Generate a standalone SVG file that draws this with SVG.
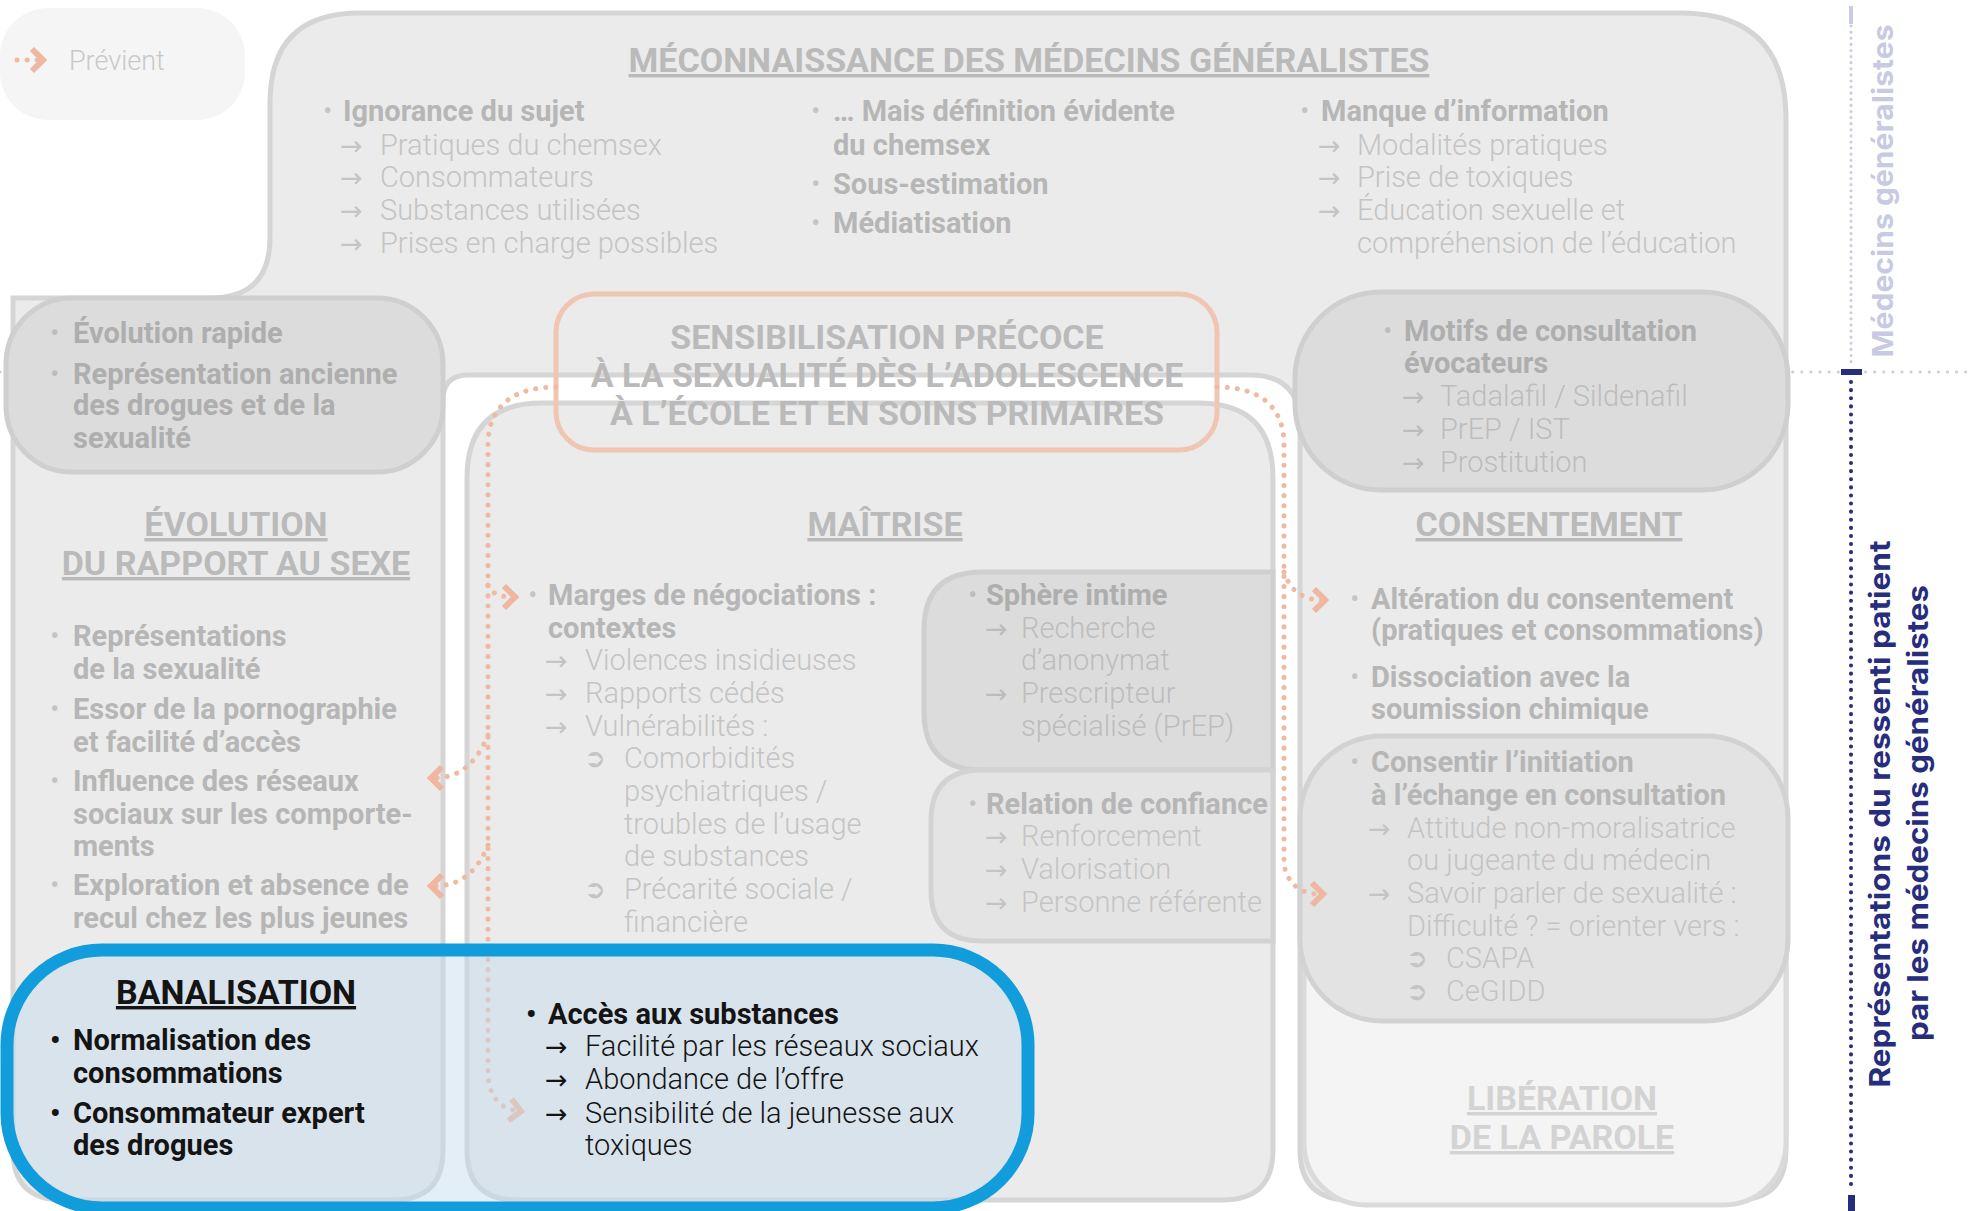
<svg xmlns="http://www.w3.org/2000/svg" width="1972" height="1211" viewBox="0 0 1972 1211">
<defs>
<style>
text{font-family:Roboto,"Liberation Sans",sans-serif;font-size:29px}
.b{font-weight:700;fill:#b6b6b6}
.l{font-weight:300;fill:#c4c4c4}
.bd{font-weight:700;fill:#aeaeae}
.ld{font-weight:300;fill:#bdbdbd}
.a{font-family:"DejaVu Sans",sans-serif;font-size:27px;fill:#c4c4c4}
.ad{font-family:"DejaVu Sans",sans-serif;font-size:27px;fill:#bcbcbc}
.ak{font-family:"DejaVu Sans",sans-serif;font-size:27px;fill:#141414}
.t{font-weight:700;font-size:34px;fill:#bababa;text-anchor:middle;text-decoration:underline}
.s{font-family:"DejaVu Sans",sans-serif;font-size:26px;fill:#c4c4c4}
.k{font-weight:700;fill:#141414}
.kl{font-weight:300;fill:#141414}
.kt{font-weight:700;font-size:34px;fill:#141414;text-anchor:middle;text-decoration:underline}
.panel{fill:#ebebeb;stroke:#d5d5d5;stroke-width:5}
.dark{fill:#dcdcdc;stroke:#cfcfcf;stroke-width:5}
.dot{fill:none;stroke:#efbaa3;stroke-width:5;stroke-linecap:round;stroke-dasharray:0.1 10}
</style>
<marker id="chev" viewBox="0 0 20 30" refX="12" refY="15" markerWidth="20" markerHeight="30" markerUnits="userSpaceOnUse" orient="auto">
<path d="M4,4 L15,15 L4,26" fill="none" stroke="#efb79f" stroke-width="6"/>
</marker>
</defs>
<rect width="1972" height="1211" fill="#ffffff"/>
<line x1="0" y1="372" x2="1972" y2="372" stroke="#c9cae3" stroke-width="3" stroke-linecap="round" stroke-dasharray="0.1 9"/>

<g id="legende">
<rect x="0" y="8" width="245" height="112" rx="48" fill="#f5f5f5"/>
<path class="dot" d="M17,60 H40" marker-end="url(#chev)"/>
<text x="69" y="70" class="l" style="font-size:27px;fill:#c8c8c8">Prévient</text>
</g>

<g id="cadre-general">
<path class="panel" d="M360,13 H1680 Q1786,13 1786,119 V1150 Q1786,1200 1736,1200 H1350 Q1300,1200 1300,1150 V425 Q1300,375 1250,375 H468 Q443,375 443,400 V1150 Q443,1200 393,1200 H63 Q13,1200 13,1150 V298 H210 Q270,298 270,238 V103 Q270,13 360,13 Z"/>
</g>

<g id="meconnaissance">
<text x="1029" y="72" class="t">MÉCONNAISSANCE DES MÉDECINS GÉNÉRALISTES</text>
<text x="323" y="121" class="l">•</text><text x="343" y="121" class="b">Ignorance du sujet</text>
<text x="340" y="155" class="a">→</text><text x="380" y="155" class="l">Pratiques du chemsex</text>
<text x="340" y="187" class="a">→</text><text x="380" y="187" class="l">Consommateurs</text>
<text x="340" y="220" class="a">→</text><text x="380" y="220" class="l">Substances utilisées</text>
<text x="340" y="253" class="a">→</text><text x="380" y="253" class="l">Prises en charge possibles</text>
<text x="811" y="121" class="l">•</text><text x="833" y="121" class="b">… Mais définition évidente</text>
<text x="833" y="155" class="b">du chemsex</text>
<text x="811" y="194" class="l">•</text><text x="833" y="194" class="b">Sous-estimation</text>
<text x="811" y="233" class="l">•</text><text x="833" y="233" class="b">Médiatisation</text>
<text x="1300" y="121" class="l">•</text><text x="1321" y="121" class="b">Manque d’information</text>
<text x="1318" y="155" class="a">→</text><text x="1357" y="155" class="l">Modalités pratiques</text>
<text x="1318" y="187" class="a">→</text><text x="1357" y="187" class="l">Prise de toxiques</text>
<text x="1318" y="220" class="a">→</text><text x="1357" y="220" class="l">Éducation sexuelle et</text>
<text x="1357" y="253" class="l">compréhension de l’éducation</text>
</g>

<g id="evolution-rapport">
<text x="236" y="536" class="t">ÉVOLUTION </text>
<text x="236" y="575" class="t">DU RAPPORT AU SEXE</text>
<text x="50" y="646" class="l">•</text><text x="73" y="646" class="b">Représentations</text>
<text x="73" y="679" class="b">de la sexualité</text>
<text x="50" y="719" class="l">•</text><text x="73" y="719" class="b">Essor de la pornographie</text>
<text x="73" y="752" class="b">et facilité d’accès</text>
<text x="50" y="791" class="l">•</text><text x="73" y="791" class="b">Influence des réseaux</text>
<text x="73" y="824" class="b">sociaux sur les comporte-</text>
<text x="73" y="856" class="b">ments</text>
<text x="50" y="895" class="l">•</text><text x="73" y="895" class="b">Exploration et absence de</text>
<text x="73" y="928" class="b">recul chez les plus jeunes</text>
</g>

<g id="evolution-rapide">
<rect class="dark" x="6" y="298" width="437" height="174" rx="66"/>
<text x="50" y="343" class="ld">•</text><text x="73" y="343" class="bd">Évolution rapide</text>
<text x="50" y="384" class="ld">•</text><text x="73" y="384" class="bd">Représentation ancienne</text>
<text x="73" y="415" class="bd">des drogues et de la</text>
<text x="73" y="448" class="bd">sexualité</text>
</g>

<g id="maitrise">
<path class="panel" d="M542,403 H1198 Q1273,403 1273,478 V1150 Q1273,1200 1223,1200 H517 Q467,1200 467,1150 V478 Q467,403 542,403 Z"/>
<text x="885" y="536" class="t">MAÎTRISE</text>
<text x="528" y="605" class="l">•</text><text x="548" y="605" class="b">Marges de négociations :</text>
<text x="548" y="638" class="b">contextes</text>
<text x="545" y="670" class="a">→</text><text x="585" y="670" class="l">Violences insidieuses</text>
<text x="545" y="703" class="a">→</text><text x="585" y="703" class="l">Rapports cédés</text>
<text x="545" y="736" class="a">→</text><text x="585" y="736" class="l">Vulnérabilités :</text>
<text x="584" y="767" class="s">➲</text><text x="624" y="768" class="l">Comorbidités</text>
<text x="624" y="801" class="l">psychiatriques /</text>
<text x="624" y="834" class="l">troubles de l’usage</text>
<text x="624" y="866" class="l">de substances</text>
<text x="584" y="898" class="s">➲</text><text x="624" y="899" class="l">Précarité sociale /</text>
<text x="624" y="932" class="l">financière</text>
</g>

<g id="sphere-intime">
<path class="dark" d="M982,572 H1273 V770 H982 Q924,770 924,712 V630 Q924,572 982,572 Z"/>
<text x="968" y="605" class="ld">•</text><text x="986" y="605" class="bd">Sphère intime</text>
<text x="985" y="638" class="ad">→</text><text x="1021" y="638" class="ld">Recherche</text>
<text x="1021" y="670" class="ld">d’anonymat</text>
<text x="985" y="703" class="ad">→</text><text x="1021" y="703" class="ld">Prescripteur</text>
<text x="1021" y="736" class="ld">spécialisé (PrEP)</text>
</g>

<g id="relation-confiance">
<path d="M982,770 H1273 V941 H982 Q931,941 931,890 V821 Q931,770 982,770 Z" fill="#e4e4e4" stroke="#d3d3d3" stroke-width="5"/>
<text x="968" y="814" class="l">•</text><text x="986" y="814" class="b">Relation de confiance</text>
<text x="985" y="846" class="a">→</text><text x="1021" y="846" class="l">Renforcement</text>
<text x="985" y="879" class="a">→</text><text x="1021" y="879" class="l">Valorisation</text>
<text x="985" y="912" class="a">→</text><text x="1021" y="912" class="l">Personne référente</text>
</g>

<g id="motifs">
<rect class="dark" x="1295" y="292" width="493" height="198" rx="86"/>
<text x="1383" y="341" class="ld">•</text><text x="1404" y="341" class="bd">Motifs de consultation</text>
<text x="1404" y="373" class="bd">évocateurs</text>
<text x="1402" y="406" class="ad">→</text><text x="1440" y="406" class="ld">Tadalafil / Sildenafil</text>
<text x="1402" y="439" class="ad">→</text><text x="1440" y="439" class="ld">PrEP / IST</text>
<text x="1402" y="472" class="ad">→</text><text x="1440" y="472" class="ld">Prostitution</text>
</g>

<g id="consentement">
<text x="1549" y="536" class="t">CONSENTEMENT</text>
<text x="1350" y="609" class="l">•</text><text x="1371" y="609" class="b">Altération du consentement</text>
<text x="1371" y="640" class="b">(pratiques et consommations)</text>
<text x="1350" y="687" class="l">•</text><text x="1371" y="687" class="b">Dissociation avec la</text>
<text x="1371" y="719" class="b">soumission chimique</text>
</g>

<g id="liberation">
<rect x="1304" y="900" width="482" height="305" rx="62" fill="#f4f4f4" stroke="#dadada" stroke-width="5"/>
<text x="1562" y="1110" class="t" style="fill:#d3d3d3">LIBÉRATION </text>
<text x="1562" y="1149" class="t" style="fill:#d3d3d3">DE LA PAROLE</text>
</g>

<g id="consentir">
<rect x="1300" y="736" width="488" height="285" rx="82" fill="#e3e3e3" stroke="#d2d2d2" stroke-width="5"/>
<text x="1350" y="772" class="l">•</text><text x="1371" y="772" class="b">Consentir l’initiation</text>
<text x="1371" y="805" class="b">à l’échange en consultation</text>
<text x="1368" y="838" class="a">→</text><text x="1407" y="838" class="l">Attitude non-moralisatrice</text>
<text x="1407" y="870" class="l">ou jugeante du médecin</text>
<text x="1368" y="903" class="a">→</text><text x="1407" y="903" class="l">Savoir parler de sexualité :</text>
<text x="1407" y="936" class="l">Difficulté ? = orienter vers :</text>
<text x="1406" y="967" class="s">➲</text><text x="1446" y="968" class="l">CSAPA</text>
<text x="1406" y="1000" class="s">➲</text><text x="1446" y="1001" class="l">CeGIDD</text>
</g>

<g id="sensibilisation">
<rect x="556" y="294" width="661" height="156" rx="38" fill="none" stroke="#f0c6b3" stroke-width="5"/>
<text x="887" y="349" class="t" style="text-decoration:none">SENSIBILISATION PRÉCOCE</text>
<text x="887" y="387" class="t" style="text-decoration:none">À LA SEXUALITÉ DÈS L’ADOLESCENCE</text>
<text x="887" y="425" class="t" style="text-decoration:none">À L’ÉCOLE ET EN SOINS PRIMAIRES</text>
</g>

<g id="connecteurs">
<path class="dot" d="M556,387 C515,387 488,405 488,445 V1070 C488,1095 498,1108 518,1111" marker-end="url(#chev)"/>
<path class="dot" d="M488,585 C492,594 500,597 512,597" marker-end="url(#chev)"/>
<path class="dot" d="M488,735 C478,760 462,778 434,778" marker-end="url(#chev)"/>
<path class="dot" d="M488,845 C478,870 462,886 434,886" marker-end="url(#chev)"/>
<path class="dot" d="M1217,387 C1258,387 1284,405 1284,445 V865 C1288,884 1300,894 1320,894" marker-end="url(#chev)"/>
<path class="dot" d="M1284,572 C1290,590 1302,600 1322,600" marker-end="url(#chev)"/>
</g>

<g id="banalisation">
<rect x="7" y="950" width="1021" height="258" rx="95" fill="#c3d9ed" fill-opacity="0.45" stroke="#119cdc" stroke-width="13"/>
<text x="236" y="1004" class="kt">BANALISATION</text>
<text x="50" y="1050" class="k">•</text><text x="73" y="1050" class="k">Normalisation des</text>
<text x="73" y="1083" class="k">consommations</text>
<text x="50" y="1123" class="k">•</text><text x="73" y="1123" class="k">Consommateur expert</text>
<text x="73" y="1155" class="k">des drogues</text>
<text x="526" y="1024" class="k">•</text><text x="548" y="1024" class="k">Accès aux substances</text>
<text x="545" y="1056" class="ak">→</text><text x="585" y="1056" class="kl">Facilité par les réseaux sociaux</text>
<text x="545" y="1089" class="ak">→</text><text x="585" y="1089" class="kl">Abondance de l’offre</text>
<text x="545" y="1123" class="ak">→</text><text x="585" y="1123" class="kl">Sensibilité de la jeunesse aux</text>
<text x="585" y="1155" class="kl">toxiques</text>
</g>

<g id="axe-medecins">
<line x1="1851" y1="26" x2="1851" y2="366" stroke="#c9cae3" stroke-width="3" stroke-linecap="round" stroke-dasharray="0.1 6"/>
<rect x="1849" y="6" width="4" height="18" fill="#c9cae3"/>
<text transform="translate(1893,191) rotate(-90)" text-anchor="middle" textLength="333" lengthAdjust="spacingAndGlyphs" style="font-family:Inter,'Open Sans',sans-serif;font-weight:700;font-size:29px;fill:#c8c9e2">Médecins généralistes</text>
</g>

<g id="axe-patient">
<rect x="1841" y="369" width="21" height="6" fill="#262d7d"/>
<line x1="1851" y1="382" x2="1851" y2="1192" stroke="#262d7d" stroke-width="4" stroke-linecap="round" stroke-dasharray="0.1 8"/>
<rect x="1848" y="1195" width="7" height="16" fill="#262d7d"/>
<text transform="translate(1890,814) rotate(-90)" text-anchor="middle" textLength="547" lengthAdjust="spacingAndGlyphs" style="font-family:Inter,'Open Sans',sans-serif;font-weight:700;font-size:29px;fill:#262d7d">Représentations du ressenti patient</text>
<text transform="translate(1928,813) rotate(-90)" text-anchor="middle" textLength="456" lengthAdjust="spacingAndGlyphs" style="font-family:Inter,'Open Sans',sans-serif;font-weight:700;font-size:29px;fill:#262d7d">par les médecins généralistes</text>
</g>
</svg>
